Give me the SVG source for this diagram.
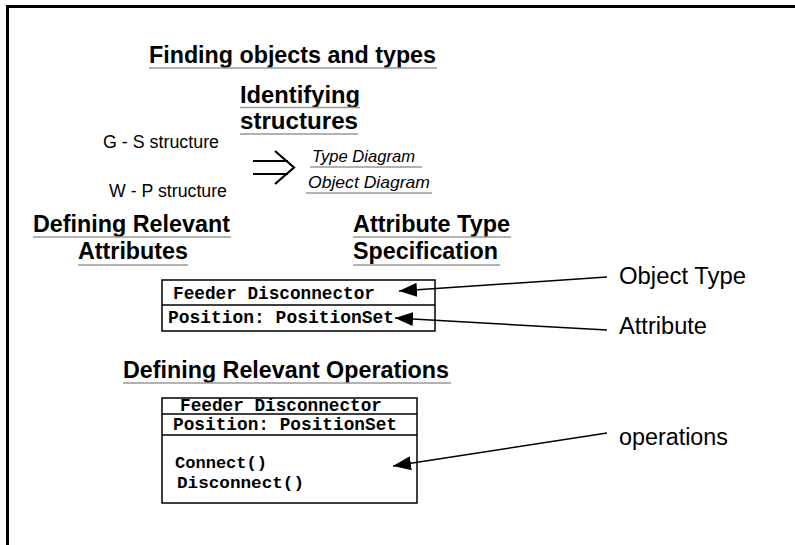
<svg xmlns="http://www.w3.org/2000/svg" width="795" height="545" viewBox="0 0 795 545">
<style>
.h{font-family:"Liberation Sans",Arial,sans-serif;font-weight:bold;font-size:23.5px;fill:#000}
.s{font-family:"Liberation Sans",Arial,sans-serif;font-size:17.5px;fill:#000}
.i{font-family:"Liberation Sans",Arial,sans-serif;font-style:italic;font-size:16.5px;fill:#000}
.l{font-family:"Liberation Sans",Arial,sans-serif;font-size:23px;fill:#000}
.m{font-family:"Liberation Mono","Courier New",monospace;font-weight:bold;font-size:18.5px;fill:#000}
.op{font-size:17px}
.u{stroke:#999;stroke-width:1.5}
.box{fill:#fff;stroke:#000;stroke-width:1.5}
.div{stroke:#000;stroke-width:1.5}
.conn{stroke:#000;stroke-width:1.5;fill:none}
</style>
<defs>
<marker id="ah" markerUnits="userSpaceOnUse" markerWidth="18" markerHeight="14" refX="18" refY="7" orient="auto">
<path d="M0,0 L18,7 L0,14 z" fill="#000"/>
</marker>
</defs>
<rect width="795" height="545" fill="#fff"/>
<g id="frame">
<line x1="6" y1="6.5" x2="795" y2="6.5" stroke="#000" stroke-width="3"/>
<line x1="7.5" y1="5" x2="7.5" y2="545" stroke="#000" stroke-width="3"/>
</g>
<g id="title">
<text class="h" x="149" y="63" textLength="287" lengthAdjust="spacingAndGlyphs">Finding objects and types</text>
<line class="u" x1="149" y1="68" x2="437" y2="68"/>
</g>
<g id="identifying">
<text class="h" x="240" y="103" textLength="120" lengthAdjust="spacingAndGlyphs">Identifying</text>
<line class="u" x1="240" y1="107.5" x2="360" y2="107.5"/>
<text class="h" x="240" y="129" textLength="118" lengthAdjust="spacingAndGlyphs">structures</text>
<line class="u" x1="240" y1="134" x2="358" y2="134"/>
</g>
<g id="gs">
<text class="s" x="103" y="148" textLength="116" lengthAdjust="spacingAndGlyphs">G - S structure</text>
</g>
<g id="wp">
<text class="s" x="109" y="197" textLength="118" lengthAdjust="spacingAndGlyphs">W - P structure</text>
</g>
<g id="implies">
<line x1="253" y1="161" x2="288" y2="161" stroke="#000" stroke-width="2.2"/>
<line x1="253" y1="174" x2="288" y2="174" stroke="#000" stroke-width="2.2"/>
<polyline points="275,151 294,167.5 275,184" fill="none" stroke="#000" stroke-width="2.2"/>
</g>
<g id="diagrams">
<text class="i" x="312" y="162" textLength="103" lengthAdjust="spacingAndGlyphs">Type Diagram</text>
<line class="u" x1="310" y1="167" x2="422" y2="167"/>
<text class="i" x="308" y="188" textLength="122" lengthAdjust="spacingAndGlyphs">Object Diagram</text>
<line class="u" x1="306" y1="193" x2="432" y2="193"/>
</g>
<g id="defining-attributes">
<text class="h" x="33" y="232" textLength="197" lengthAdjust="spacingAndGlyphs">Defining Relevant</text>
<line class="u" x1="33" y1="237" x2="231" y2="237"/>
<text class="h" x="78" y="259" textLength="110" lengthAdjust="spacingAndGlyphs">Attributes</text>
<line class="u" x1="78" y1="265" x2="188" y2="265"/>
</g>
<g id="attribute-type">
<text class="h" x="353" y="232" textLength="157" lengthAdjust="spacingAndGlyphs">Attribute Type</text>
<line class="u" x1="353" y1="237" x2="511" y2="237"/>
<text class="h" x="353" y="259" textLength="145" lengthAdjust="spacingAndGlyphs">Specification</text>
<line class="u" x1="353" y1="265" x2="500" y2="265"/>
</g>
<g id="class1">
<rect class="box" x="162" y="280" width="273" height="51"/>
<line class="div" x1="162" y1="305" x2="435" y2="305"/>
<text class="m" x="173" y="299" textLength="202" lengthAdjust="spacingAndGlyphs">Feeder Disconnector</text>
<text class="m" x="168" y="323" textLength="226" lengthAdjust="spacingAndGlyphs">Position: PositionSet</text>
</g>
<g id="object-type">
<text class="l" x="619" y="284" textLength="127" lengthAdjust="spacingAndGlyphs">Object Type</text>
</g>
<g id="attribute">
<text class="l" x="619" y="334" textLength="88" lengthAdjust="spacingAndGlyphs">Attribute</text>
</g>
<g id="defining-operations">
<text class="h" x="123" y="378" textLength="326" lengthAdjust="spacingAndGlyphs">Defining Relevant Operations</text>
<line class="u" x1="123" y1="383" x2="451" y2="383"/>
</g>
<g id="class2">
<rect class="box" x="162" y="398" width="255" height="105"/>
<line class="div" x1="162" y1="414" x2="417" y2="414"/>
<line class="div" x1="162" y1="435" x2="417" y2="435"/>
<text class="m" x="180" y="411" textLength="202" lengthAdjust="spacingAndGlyphs">Feeder Disconnector</text>
<text class="m" x="173" y="430" textLength="224" lengthAdjust="spacingAndGlyphs">Position: PositionSet</text>
<text class="m op" x="175" y="468" textLength="92" lengthAdjust="spacingAndGlyphs">Connect()</text>
<text class="m op" x="177" y="488" textLength="127" lengthAdjust="spacingAndGlyphs">Disconnect()</text>
</g>
<g id="operations">
<text class="l" x="619" y="445" textLength="109" lengthAdjust="spacingAndGlyphs">operations</text>
</g>
<g id="connectors">
<line class="conn" x1="607" y1="277" x2="399" y2="291" marker-end="url(#ah)"/>
<line class="conn" x1="607" y1="330" x2="395" y2="318" marker-end="url(#ah)"/>
<line class="conn" x1="607" y1="433" x2="393" y2="466" marker-end="url(#ah)"/>
</g>
</svg>
